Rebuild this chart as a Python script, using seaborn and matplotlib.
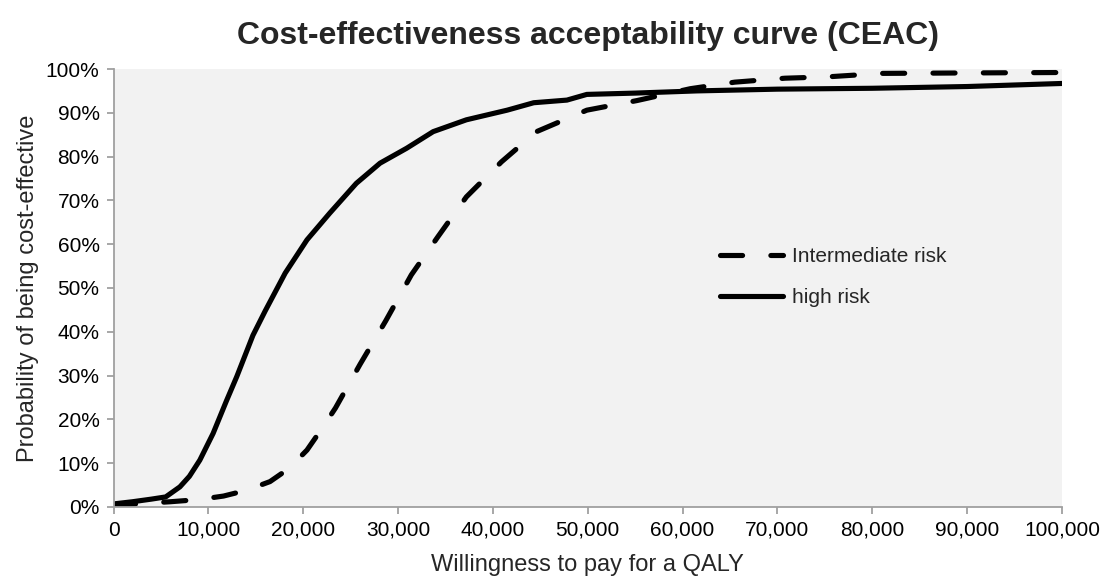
"""
CEAC (cost-effectiveness acceptability curve) 재현
"""
import matplotlib
matplotlib.use("Agg")
import pandas as pd
import matplotlib.pyplot as plt
import seaborn as sns
from matplotlib.ticker import FuncFormatter, MultipleLocator

# --- 데이터 ---------------------------------------------
wtp_high = [0, 2000, 4000, 5500, 7000, 8000, 9100, 10500, 11900, 13000,
            14700, 16000, 18100, 20400, 22800, 25600, 28100, 30900, 33700,
            37200, 41500, 44300, 47800, 49900, 55000, 61500, 70000, 80000,
            90000, 100000]
prob_high = [0.7, 1.2, 1.8, 2.3, 4.6, 7.0, 10.7, 16.8, 24.2, 29.8,
             39.2, 44.8, 53.4, 61.0, 67.1, 73.9, 78.5, 81.9, 85.7,
             88.4, 90.6, 92.3, 92.9, 94.2, 94.5, 95.0, 95.4, 95.6,
             96.0, 96.7]

wtp_int = [0, 3000, 6000, 9000, 11600, 14000, 16500, 18500, 20400, 22000,
           23400, 26000, 28700, 31400, 34200, 37200, 40900, 44600, 49900,
           55200, 60800, 65500, 70800, 75200, 81000, 90000, 100000]
prob_int = [0.3, 0.8, 1.2, 1.7, 2.5, 3.8, 5.8, 8.8, 13.0, 18.0,
            22.6, 32.6, 42.5, 53.0, 61.7, 70.8, 78.8, 85.7, 90.6,
            92.8, 95.5, 97.0, 97.9, 98.2, 99.0, 99.1, 99.2]

series_names = ["Intermediate risk", "high risk"]

df = pd.concat([
    pd.DataFrame({"wtp": wtp_int, "prob": prob_int, "series": series_names[0]}),
    pd.DataFrame({"wtp": wtp_high, "prob": prob_high, "series": series_names[1]}),
], ignore_index=True)

# --- 스타일 ----------------------------------------------------
sns.set_style("ticks")
plt.rcParams["font.family"] = ["Liberation Sans", "DejaVu Sans"]

fig = plt.figure(figsize=(11.01, 5.76), dpi=100)
ax = fig.add_axes([0.1031, 0.1198, 0.8615, 0.7604])
ax.set_facecolor("#f2f2f2")

sns.lineplot(data=df, x="wtp", y="prob", style="series", hue="series",
             palette={series_names[0]: "black", series_names[1]: "black"},
             dashes={series_names[0]: (4.3, 5.5), series_names[1]: ""},
             linewidth=3.7, estimator=None, sort=True, ax=ax)
for ln in ax.lines:
    ln.set_dash_capstyle("round")
    ln.set_solid_capstyle("round")
    ln.set_solid_joinstyle("round")

ax.set_xlim(0, 100000)
ax.set_ylim(0, 100)
ax.xaxis.set_major_locator(MultipleLocator(10000))
ax.yaxis.set_major_locator(MultipleLocator(10))
ax.xaxis.set_major_formatter(FuncFormatter(lambda v, p: f"{v:,.0f}"))
ax.yaxis.set_major_formatter(FuncFormatter(lambda v, p: f"{v:.0f}%"))

for side in ["top", "right"]:
    ax.spines[side].set_visible(False)
for side in ["left", "bottom"]:
    ax.spines[side].set_color("#a0a0a0")
    ax.spines[side].set_linewidth(1.3)
ax.tick_params(axis="both", colors="#a0a0a0", labelcolor="black",
               length=5, width=1.3, labelsize=15, pad=5)

ax.set_xlabel("Willingness to pay for a QALY", fontsize=17, labelpad=10.5)
ax.set_ylabel("Probability of being cost-effective", fontsize=17, labelpad=5)
ax.set_title("Cost-effectiveness acceptability curve (CEAC)",
             fontsize=23, fontweight="bold", pad=18)

ax.legend(frameon=False, loc="center left", bbox_to_anchor=(0.62, 0.525),
          fontsize=15, handlelength=3.0, handletextpad=0.45, labelspacing=1.05)

fig.savefig("out.png", dpi=100)
